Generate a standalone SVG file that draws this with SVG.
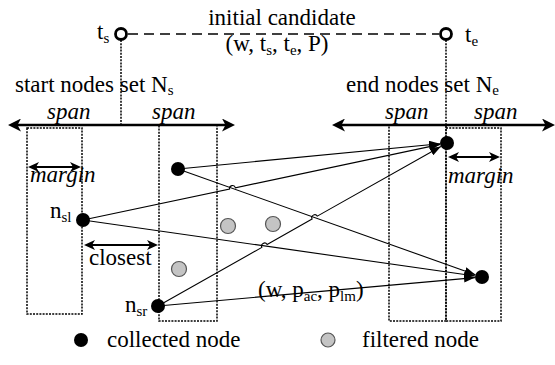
<svg xmlns="http://www.w3.org/2000/svg" width="555" height="365" viewBox="0 0 555 365">
<style>
text{font-family:"Liberation Serif","Times New Roman",serif;font-size:23px;fill:#000}
.it{font-style:italic}
.sub{font-size:15px}
.dot{fill:none;stroke:#000;stroke-width:1.5;stroke-dasharray:2 1.2}
.edge{fill:none;stroke:#000;stroke-width:1.1;marker-end:url(#ah)}
.span{stroke:#000;stroke-width:2.6;marker-start:url(#big);marker-end:url(#big)}
.dim{stroke:#000;stroke-width:2.2;marker-start:url(#mid);marker-end:url(#mid)}
.col{fill:#000}
.fil{fill:#c4c4c4;stroke:#555;stroke-width:1.2}
.term{fill:#fff;stroke:#000;stroke-width:2.8}
</style>
<defs>
<marker id="ah" markerUnits="userSpaceOnUse" markerWidth="12" markerHeight="8" refX="11" refY="4" orient="auto"><path d="M0,0 L11,4 L0,8 z" fill="#000"/></marker>
<marker id="big" markerUnits="userSpaceOnUse" markerWidth="14" markerHeight="13" refX="9" refY="6.5" orient="auto-start-reverse"><path d="M0,0 L13,6.5 L0,13 L3.5,6.5 z" fill="#000"/></marker>
<marker id="mid" markerUnits="userSpaceOnUse" markerWidth="12" markerHeight="10" refX="8" refY="5" orient="auto-start-reverse"><path d="M0,0 L11,5 L0,10 L3,5 z" fill="#000"/></marker>
</defs>

<g id="candidate">
<line x1="128" y1="34" x2="439" y2="34" stroke="#000" stroke-width="1.5" stroke-dasharray="10 6"/>
<text x="282" y="25" text-anchor="middle">initial candidate</text>
<text x="277" y="51" text-anchor="middle">(w, t<tspan class="sub" dy="4">s</tspan><tspan dy="-4">, t</tspan><tspan class="sub" dy="4">e</tspan><tspan dy="-4">, P)</tspan></text>
</g>

<g id="ts">
<line class="dot" x1="121" y1="40" x2="121" y2="125"/>
<circle class="term" cx="121" cy="34" r="5.5"/>
<text x="97" y="39">t<tspan class="sub" dy="4">s</tspan></text>
</g>
<g id="te">
<line class="dot" x1="446" y1="40" x2="446" y2="128"/>
<circle class="term" cx="446" cy="34" r="5.5"/>
<text x="465" y="42">t<tspan class="sub" dy="4">e</tspan></text>
</g>

<g id="start-set">
<text x="15" y="92">start nodes set N<tspan class="sub" dy="3">s</tspan></text>
<rect class="dot" x="27" y="128" width="55" height="186"/>
<rect class="dot" x="159" y="125" width="58" height="196"/>
<line class="span" x1="12" y1="125" x2="231" y2="125"/>
<text class="it" x="47" y="119">span</text>
<text class="it" x="152" y="119">span</text>
<line class="dim" x1="31" y1="167" x2="78" y2="167"/>
<text class="it" x="30" y="182">margin</text>
<line class="dim" x1="87" y1="245" x2="155" y2="245"/>
<text x="89" y="265">closest</text>
</g>

<g id="end-set">
<text x="346" y="92">end nodes set N<tspan class="sub" dy="3">e</tspan></text>
<rect class="dot" x="389" y="125" width="57" height="196"/>
<rect class="dot" x="446" y="128" width="55" height="193"/>
<line class="span" x1="336" y1="125" x2="551" y2="125"/>
<text class="it" x="385" y="119">span</text>
<text class="it" x="474" y="119">span</text>
<line class="dim" x1="451" y1="157" x2="497" y2="157"/>
<text class="it" x="448" y="183">margin</text>
</g>

<g id="connectors">
<path class="edge" d="M178,169 L440,143.7"/>
<path class="edge" d="M83,220 L229.57,189.02 A3,3 0 0 1 235.43,187.78 L440.2,144.4"/>
<path class="edge" d="M158,306 L261.89,247.37 A3,3 0 0 1 267.11,244.43 L312.09,219.07 A3,3 0 0 1 317.31,216.13 L440.9,146.4"/>
<path class="edge" d="M178,169 L475.4,274.7"/>
<path class="edge" d="M83,220 L475.1,276"/>
<path class="edge" d="M158,306 L475,277.6"/>
<text x="258" y="297">(w, p<tspan class="sub" dy="4">ac</tspan><tspan dy="-4">, p</tspan><tspan class="sub" dy="4">lm</tspan><tspan dy="-4">)</tspan></text>
</g>

<g id="node-a"><circle class="col" cx="178" cy="169" r="7"/></g>
<g id="node-nsl"><circle class="col" cx="83" cy="220" r="7"/><text x="50" y="218">n<tspan class="sub" dy="4">sl</tspan></text></g>
<g id="node-nsr"><circle class="col" cx="158" cy="306" r="7"/><text x="125" y="312">n<tspan class="sub" dy="4">sr</tspan></text></g>
<g id="node-end-top"><circle class="col" cx="447" cy="143" r="7"/></g>
<g id="node-end-bottom"><circle class="col" cx="482" cy="277" r="7"/></g>
<g id="node-f1"><circle class="fil" cx="228" cy="226" r="7.5"/></g>
<g id="node-f2"><circle class="fil" cx="273" cy="224" r="7.5"/></g>
<g id="node-f3"><circle class="fil" cx="179" cy="269" r="7.5"/></g>

<g id="legend">
<circle class="col" cx="81" cy="340" r="7"/>
<text x="107" y="347">collected node</text>
<circle class="fil" cx="328" cy="340" r="7"/>
<text x="362" y="347">filtered node</text>
</g>
</svg>
